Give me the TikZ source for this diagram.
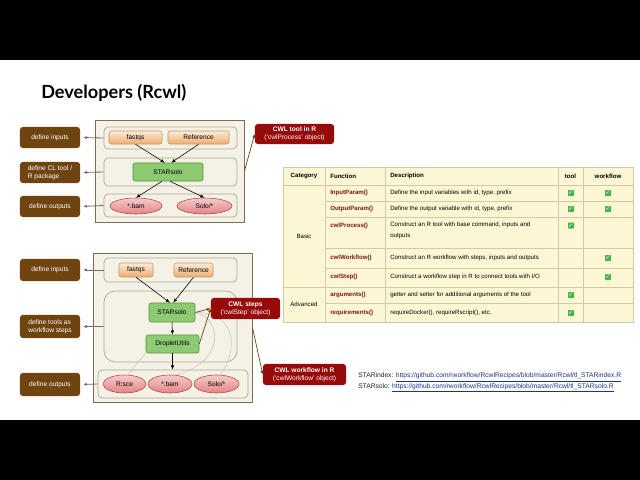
\documentclass[tikz,border=0pt]{standalone}
\usepackage{fontspec}
\setmainfont{Liberation Sans}
\newfontfamily\titlefont{Lato}
\newfontfamily\symfont{DejaVu Sans}
\usetikzlibrary{arrows.meta,fit,shapes.geometric}

\definecolor{panelfill}{RGB}{244,242,230}
\definecolor{panelline}{RGB}{120,110,90}
\definecolor{groupline}{RGB}{176,164,140}
\definecolor{orangetop}{RGB}{252,236,215}
\definecolor{orangebot}{RGB}{236,172,112}
\definecolor{orangeline}{RGB}{205,150,100}
\definecolor{greenfill}{RGB}{140,202,115}
\definecolor{greenline}{RGB}{90,150,65}
\definecolor{pinktop}{RGB}{248,202,202}
\definecolor{pinkbot}{RGB}{226,132,132}
\definecolor{pinkline}{RGB}{178,70,70}
\definecolor{rolebrown}{RGB}{112,68,16}
\definecolor{cwlred}{RGB}{150,10,10}
\definecolor{tablefill}{RGB}{253,246,212}
\definecolor{tableline}{RGB}{210,200,170}
\definecolor{fnred}{RGB}{120,25,20}
\definecolor{linkblue}{RGB}{30,50,140}
\definecolor{tickgreen}{RGB}{76,180,76}

\newcommand{\boxfont}{\fontsize{4.7}{5.8}\selectfont}
\newcommand{\tabfont}{\fontsize{4.35}{5.9}\selectfont}
\newcommand{\linkfont}{\fontsize{4.75}{6.4}\selectfont}

\begin{document}
\begin{tikzpicture}[x=0.025cm, y=-0.025cm,
    panel/.style={draw=panelline, fill=panelfill, line width=0.7pt, inner sep=0pt},
    group/.style={draw=groupline, fill=panelfill, line width=0.5pt, rounded corners=3pt, inner sep=0pt},
    infile/.style={draw=orangeline, top color=orangetop, bottom color=orangebot, rounded corners=1.5pt, inner sep=0pt, line width=0.4pt, font=\boxfont},
    tool/.style={draw=greenline, fill=greenfill, rounded corners=1.5pt, inner sep=0pt, line width=0.4pt, font=\boxfont},
    outfile/.style={ellipse, draw=pinkline, top color=pinktop, bottom color=pinkbot, inner sep=0pt, line width=0.4pt, font=\boxfont},
    role/.style={fill=rolebrown, text=white, rounded corners=2pt, inner sep=0pt, align=left, minimum width=1.5cm, font=\boxfont},
    cwlnote/.style={fill=cwlred, text=white, rounded corners=2pt, inner sep=0pt, align=center, minimum height=0.525cm, font=\boxfont},
    flow/.style={-{Latex[length=3pt,width=2.4pt]}, line width=0.4pt},
    rolearrow/.style={-{Latex[length=2.6pt,width=2.2pt]}, draw=panelline, line width=0.6pt, shorten >=2pt},
    notearrow/.style={-{Latex[length=2.6pt,width=2.2pt]}, draw=rolebrown, line width=0.5pt},
    ghost/.style={draw=black!22, line width=0.4pt},
    tablerule/.style={draw=tableline, line width=0.5pt},
    tabhead/.style={font=\tabfont\bfseries, inner sep=0pt},
    fname/.style={font=\tabfont\bfseries, text=fnred, anchor=west, inner sep=0pt},
    fdesc/.style={font=\tabfont, anchor=west, align=left, inner sep=0pt},
    tick/.style={fill=tickgreen, text=white, rounded corners=0.5pt, minimum size=0.15cm, inner sep=0pt, font=\symfont\fontsize{4}{4}\selectfont}
  ]
  \useasboundingbox (0,0) rectangle (640,480);
  \fill[white] (0,0) rectangle (640,480);
  \fill[black] (0,0) rectangle (640,60);
  \fill[black] (0,420) rectangle (640,480);

  \node[anchor=west, inner sep=0pt, font=\titlefont\fontsize{12.9}{15}\selectfont\bfseries] (title) at (41,93) {Developers (Rcwl)};

  % tool in R
  \node[panel, fit={(95,120) (244,222)}] (outerA) {};
  \node[group, fit={(104,127) (237,149)}] (inA) {};
  \node[group, fit={(104,158) (237,186)}] (toolA) {};
  \node[group, fit={(104,194) (237,217)}] (outA) {};
  \node[infile, minimum width=1.325cm, minimum height=0.325cm] (fastqsA) at (135.5,137.5) {fastqs};
  \node[infile, minimum width=1.525cm, minimum height=0.325cm] (refA) at (198.5,137.5) {Reference};
  \node[tool, minimum width=1.75cm, minimum height=0.45cm] (starA) at (168,172) {STARsolo};
  \node[outfile, minimum width=1.3cm, minimum height=0.4cm] (bamA) at (136,206) {*.bam};
  \node[outfile, minimum width=1.375cm, minimum height=0.4cm] (soloA) at (204.5,206) {Solo/*};
  \draw[flow] (fastqsA.south) -- ([xshift=-0.08cm]starA.north);
  \draw[flow] (refA.south) -- ([xshift=0.08cm]starA.north);
  \draw[flow] ([xshift=-0.15cm]starA.south) -- (bamA.north);
  \draw[flow] ([xshift=0.05cm]starA.south) -- (soloA.north);

  \node[role, minimum height=0.525cm] (lblInA) at (50,137.5) {define inputs};
  \node[role, minimum height=0.525cm] (lblToolA) at (50,172.5) {define CL tool /\\R package};
  \node[role, minimum height=0.525cm] (lblOutA) at (50,206.5) {define outputs};
  \draw[rolearrow] (inA.west) -- (lblInA.east);
  \draw[rolearrow] (toolA.west) -- (lblToolA.east);
  \draw[rolearrow] (outA.west) -- (lblOutA.east);

  \node[cwlnote, minimum width=1.975cm, minimum height=0.5cm] (cwltool) at (294.5,134) {{\bfseries CWL tool in R}\\(`cwlProcess' object)};
  \draw[notearrow] (outerA.east) -- (cwltool.west);

  % workflow in R
  \node[panel, fit={(93,253) (252,402)}] (outerB) {};
  \node[group, fit={(104,258) (237,282)}] (inB) {};
  \node[group, rounded corners=8pt, fit={(104,291) (237,362)}] (wfB) {};
  \node[group, fit={(98,370) (248,398)}] (outB) {};
  \node[infile, minimum width=0.85cm, minimum height=0.35cm] (fastqsB) at (136,270) {fastqs};
  \node[infile, minimum width=0.975cm, minimum height=0.35cm] (refB) at (193.5,270) {Reference};
  \node[tool, minimum width=1.15cm, minimum height=0.475cm] (starB) at (172,312.5) {STARsolo};
  \node[tool, minimum width=1.325cm, minimum height=0.45cm] (dropB) at (172.5,344) {DropletUtils};
  \draw[ghost] (dropB.south west) .. controls (138,362) .. (128,375);
  \draw[ghost] (starB.east) .. controls (222,318) and (226,362) .. (176,375);
  \draw[ghost] (starB.east) .. controls (238,312) and (238,352) .. (220,375);
  \node[outfile, minimum width=1.075cm, minimum height=0.45cm] (sceB) at (124.5,384) {R:sce};
  \node[outfile, minimum width=1.1cm, minimum height=0.45cm] (bamB) at (170,384) {*.bam};
  \node[outfile, minimum width=1.125cm, minimum height=0.45cm] (soloB) at (216.5,384) {Solo/*};
  \draw[flow] (fastqsB.south) -- ([xshift=-0.05cm]starB.north);
  \draw[flow] (refB.south) -- ([xshift=0.03cm]starB.north);
  \draw[flow] (starB.south) -- (dropB.north);
  \draw[flow] (dropB.south) -- (dropB.south |- outB.north);

  \node[role, minimum height=0.55cm] (lblInB) at (50,270) {define inputs};
  \node[role, minimum height=0.575cm] (lblWfB) at (50,326.5) {define tools as\\workflow steps};
  \node[role, minimum height=0.575cm] (lblOutB) at (50,384.5) {define outputs};
  \draw[rolearrow] (inB.west) -- (lblInB.east);
  \draw[rolearrow] (wfB.west) -- (lblWfB.east);
  \draw[rolearrow] (outB.west) -- (lblOutB.east);

  \node[cwlnote, minimum width=1.725cm] (steps) at (245.5,308.5) {{\bfseries CWL steps}\\(`cwlStep' object)};
  \draw[notearrow] (starB.east) -- (steps.west);
  \draw[notearrow] (dropB.east) -- (steps.west);
  \node[cwlnote, minimum width=2.075cm] (cwlwf) at (304.5,374.5) {{\bfseries CWL workflow in R}\\(`cwlWorkflow' object)};
  \draw[notearrow] (outerB.east) -- (cwlwf.west);

  % table of functions
  \fill[tablefill] (283,167) rectangle (633,322);
  \draw[tablerule] (283,167) rectangle (633,322);
  \foreach \yy in {185,287}
    \draw[tablerule] (283,\yy) -- (633,\yy);
  \foreach \yy in {201,217,248,268,303}
    \draw[tablerule] (325,\yy) -- (633,\yy);
  \foreach \xx in {325,385,558,583}
    \draw[tablerule] (\xx,167) -- (\xx,322);

  \node[tabhead] (hcat) at (304,176) {Category};
  \node[tabhead, anchor=west] (hfun) at (330,176) {Function};
  \node[tabhead, anchor=west] (hdesc) at (390,176) {Description};
  \node[tabhead] (htool) at (570.5,176) {tool};
  \node[tabhead] (hwf) at (608,176) {workflow};
  \node[font=\tabfont, inner sep=0pt] (basic) at (304,236) {Basic};
  \node[font=\tabfont, inner sep=0pt] (advanced) at (304,304.5) {Advanced};

  \foreach \fn/\fd/\yy [count=\r] in {
      InputParam()/{Define the input variables with id, type, prefix}/193,
      OutputParam()/{Define the output variable with id, type, prefix}/209,
      cwlWorkflow()/{Construct an R workflow with steps, inputs and outputs}/258,
      cwlStep()/{Construct a workflow step in R to connect tools with I/O}/277,
      arguments()/{getter and setter for additional arguments of the tool}/295,
      requirements()/{requireDocker(), requireRscript(), etc.}/313}
  {
    \node[fname] (fn\r) at (330,\yy) {\fn};
    \node[fdesc] (fd\r) at (390,\yy) {\fd};
  }
  \node[fname] (fnproc) at (330,225.5) {cwlProcess()};
  \node[fdesc, anchor=north west, font=\fontsize{4.35}{7.4}\selectfont] (fdproc) at (390,222) {Construct an R tool with base command, inputs and\\outputs};

  \foreach \cx/\cy [count=\k] in {571/193,608/193,571/209,608/209,571/225.5,608/258,608/277,571/295,571/313}
    \node[tick] (tick\k) at (\cx,\cy) {✓};

  \node[anchor=west, align=left, inner sep=0pt, font=\linkfont, text=black!85] (links) at (358,382.5)
    {STARindex: {\color{linkblue}\underline{https://github.com/rworkflow/RcwlRecipes/blob/master/Rcwl/tl\_STARindex.R}}\\
     STARsolo: {\color{linkblue}\underline{https://github.com/rworkflow/RcwlRecipes/blob/master/Rcwl/tl\_STARsolo.R}}};
\end{tikzpicture}
\end{document}
